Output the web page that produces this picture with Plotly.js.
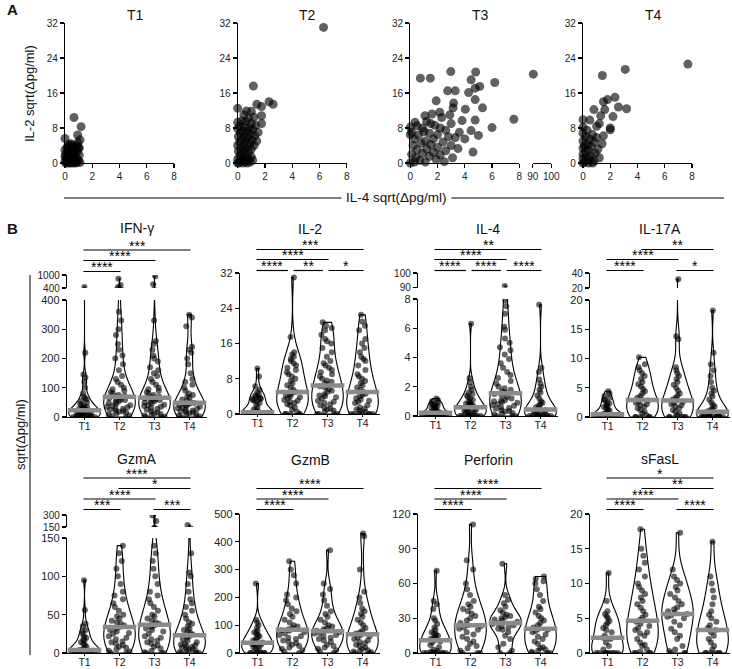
<!DOCTYPE html>
<html><head><meta charset="utf-8">
<script src="https://cdn.plot.ly/plotly-3.0.1.min.js"></script>
<style>html,body{margin:0;padding:0;background:#fff}#chart{width:732px;height:669px}</style>
</head><body><div id="chart"></div>
<script>
// ================= DATA =================
const timepoints = ['T1','T2','T3','T4'];

// Panel A: IL-4 sqrt(Δpg/ml) (x) vs IL-2 sqrt(Δpg/ml) (y)
const scatterT1_IL4 = [0.66,1.18,0.93,0.0,1.1,0.3,0.6,0.85,1.0,0.15,0.45,0.7,0.2,0.9,0.55,0.35,0.05,0.75,1.05,0.25,0.5,0.65,0.1,0.4,0.85,0.2,0.6,1.0,0.0,0.3,0.5,0.15,0.7,0.9,0.4,0.05,0.25,0.6,0.8,1.1,0.0,0.0,0.3,0.45,0.95,1.05];
const scatterT1_IL2 = [10.4,8.3,6.4,5.6,5.3,4.3,4.0,3.8,3.5,3.6,3.2,3.0,2.8,2.6,2.4,2.2,2.0,2.0,1.8,1.6,1.5,1.2,1.2,1.0,0.9,0.8,0.6,0.6,0.5,0.4,0.2,0.1,0.1,0.2,0.0,0.0,0.0,0.0,0.0,0.1,3.0,1.5,3.8,4.4,4.6,3.4];
const scatterT2_IL4 = [6.3,1.15,2.3,2.6,1.4,1.75,0.0,0.64,1.0,1.75,0.45,1.2,0.8,1.75,0.3,0.0,0.6,1.0,1.3,0.15,0.5,0.85,0.0,1.1,0.35,0.7,0.2,0.95,0.5,1.25,0.05,0.75,0.35,1.05,0.6,0.15,0.9,0.45,0.0,1.2,0.7,0.25,1.0,0.5,0.05,0.8,0.35,0.6,0.15,1.0,0.4,0.75,0.0,0.25,0.55,0.9,0.1,0.4,0.7,0.0,1.1,1.4,1.5];
const scatterT2_IL2 = [31.0,17.6,14.0,13.4,13.4,12.9,12.5,11.9,11.8,10.8,11.0,10.5,10.2,9.0,9.6,9.3,9.5,9.0,8.6,8.4,8.2,8.0,7.8,7.6,7.4,7.2,6.8,6.6,6.3,6.2,6.0,5.8,5.5,5.2,5.0,4.8,4.5,4.2,4.0,4.0,3.6,3.4,3.2,3.0,2.7,2.5,2.2,1.8,1.6,1.4,1.2,1.0,0.8,0.5,0.3,0.2,0.0,0.0,0.0,0.0,0.6,5.0,7.0];
const scatterT3_IL4 = [0.74,1.47,2.97,4.8,4.46,6.2,5.1,4.76,2.74,3.3,4.28,1.9,4.76,3.18,3.14,5.3,4.04,2.16,1.08,7.6,4.76,3.8,0.35,6.0,4.46,90.3,0.0,0.1,0.0,0.5,0.9,1.2,1.5,1.8,2.2,2.6,1.0,1.4,0.6,2.0,2.8,3.3,1.7,0.3,1.1,2.4,0.8,1.5,0.2,3.0,2.0,1.2,0.5,2.6,1.7,0.9,0.1,2.2,1.4,0.4,3.1,1.9,0.7,1.1,0.0,2.5,4.0,5.0,3.6,4.6,3.5,2.3,1.6,3.0,2.9,0.3];
const scatterT3_IL2 = [19.4,19.4,20.9,20.8,19.0,18.4,17.5,17.1,16.5,16.5,16.1,14.2,14.5,13.7,12.6,12.6,12.3,11.6,10.8,10.0,9.8,9.7,9.3,8.1,7.4,20.3,8.2,7.0,6.5,8.5,8.0,9.5,9.0,8.6,8.0,7.5,7.2,6.8,6.4,6.5,6.0,5.8,5.5,5.5,5.0,4.8,4.5,4.2,4.0,4.0,3.6,3.2,3.0,2.8,2.4,2.2,2.0,1.8,1.5,1.2,1.2,0.8,0.6,0.2,0.0,0.3,5.5,6.3,7.0,2.5,3.3,10.4,11.2,9.0,11.0,0.2];
const scatterT4_IL4 = [7.7,3.1,1.42,2.35,1.8,1.5,3.2,2.6,0.8,1.6,1.3,2.2,0.0,0.5,2.0,2.0,1.2,1.0,0.0,0.3,0.0,0.7,0.2,1.0,0.5,0.0,0.8,1.4,0.3,0.6,0.0,1.1,0.4,0.2,0.9,0.0,0.6,0.3,1.2,0.0,0.5,0.8,0.1,0.0,0.4,0.7,1.5,0.1];
const scatterT4_IL2 = [22.6,21.4,20.0,15.0,14.5,14.0,12.4,12.8,12.2,12.2,10.8,10.6,9.9,9.8,8.0,7.6,9.0,8.4,8.2,7.5,6.8,6.5,6.0,5.8,5.4,5.0,4.8,4.4,4.2,3.8,3.4,3.2,3.0,2.5,2.2,2.0,1.7,1.3,1.2,1.0,0.7,0.4,0.2,0.0,0.0,0.0,6.2,3.9];

// Panel B: sqrt(Δpg/ml) per time point [T1, T2, T3, T4]
const IFNG = [
  [0,0,0,0,0,1,2,3,4,5,6,7,8,10,12,14,15,17,18,20,22,24,25,28,30,32,35,38,40,45,50,55,60,65,70,80,100,120,135,145,220,445],
  [0,3,5,8,12,15,18,20,22,25,28,30,33,35,38,40,45,48,50,55,58,60,62,65,68,70,72,75,80,85,90,95,100,110,120,130,140,160,180,200,210,230,250,280,300,330,360,440,540,830],
  [0,0,2,5,8,10,12,15,20,25,28,30,35,38,40,42,45,50,52,55,58,60,62,64,66,68,70,75,80,85,90,95,100,110,120,130,140,150,160,170,190,200,210,230,250,260,330,570,945],
  [0,0,2,5,8,10,12,15,18,20,22,25,28,30,32,35,38,40,42,45,48,50,55,60,65,70,75,80,90,100,110,120,130,150,180,200,220,230,240,310,340,350]
];
const IL2 = [
  [0,0,0,0,0,0,0,0,0,0,0,0,0,0,0,0,0,0,0.1,0.2,0.3,0.5,0.8,1,1.5,2,2.5,2.8,3,3.2,3.4,3.5,3.6,3.8,4,4.2,4.5,5,5.5,6.3,8.5,10.3],
  [0,0,0,0,0,0.5,1,1.5,2,2.2,2.5,2.8,3,3.2,3.5,3.8,4,4.2,4.5,4.8,5,5.5,6,6.5,7,7.5,8,8.5,9,9.5,10,10.5,11,11.5,12,12.5,13,13.5,14,17.5,31],
  [0,0,0,0,0.5,0.8,1,1.2,1.5,2,2.2,2.5,2.8,3,3.5,3.8,4,4.2,4.5,5,5.3,5.6,6,6.3,6.6,7,7.3,7.6,8,8.5,9,9.5,10,10.5,11,11.5,12,13,14,15,16,16.5,17,18,19,19.5,20,20.8],
  [0,0,0,0,0,0,0.2,0.5,0.8,1,1.2,1.5,2,2.5,2.8,3,3.3,3.6,4,4.3,4.6,5,5.5,6,6.5,7,7.5,8,8.5,9,10,11,12,12.5,13,14,15,16,17,19,20,21,22.5]
];
const IL4 = [
  [0,0,0,0,0,0,0,0,0,0,0,0.05,0.1,0.1,0.15,0.2,0.2,0.25,0.3,0.3,0.35,0.4,0.5,0.55,0.6,0.65,0.7,0.75,0.8,0.85,0.9,1.0,1.1,1.2],
  [0,0,0,0,0,0,0,0.05,0.1,0.15,0.2,0.25,0.3,0.35,0.4,0.45,0.5,0.55,0.6,0.65,0.7,0.75,0.8,0.85,0.9,1.0,1.1,1.2,1.3,1.4,1.5,1.6,1.8,2.0,2.3,2.6,6.3],
  [0,0,0,0.1,0.15,0.2,0.3,0.35,0.4,0.5,0.55,0.6,0.7,0.75,0.8,0.9,0.95,1.0,1.05,1.1,1.2,1.3,1.4,1.5,1.6,1.7,1.8,1.9,2.0,2.2,2.4,2.6,2.8,3.0,3.3,3.6,3.9,4.2,4.5,4.7,5.0,5.3,5.9,6.1,7.0,7.5,7.9,91],
  [0,0,0,0,0,0,0,0,0.05,0.1,0.15,0.2,0.25,0.3,0.35,0.4,0.5,0.6,0.7,0.8,0.9,1.0,1.2,1.4,1.6,1.8,2.0,2.2,2.5,3.0,3.3,7.6]
];
const IL17A = [
  [0,0,0,0,0,0,0,0,0,0,0,0,0,0.1,0.2,0.3,0.4,0.5,0.7,0.9,1.1,1.3,1.5,1.7,1.9,2.1,2.3,2.5,2.8,3.0,3.3,3.6,4.0,4.4],
  [0,0,0,0,0,0.3,0.6,0.9,1.2,1.5,1.8,2.0,2.2,2.4,2.6,2.8,3.0,3.3,3.6,4.0,4.4,4.8,5.2,5.6,6.0,6.5,7.0,7.5,8.0,8.5,9.0,10.2],
  [0,0,0,0,0,0,0.3,0.6,0.9,1.2,1.5,1.8,2.0,2.2,2.4,2.6,2.8,3.0,3.3,3.6,4.0,4.5,5.0,5.5,6.0,6.5,7.0,7.5,8.0,8.5,13.3,13.8,31.8],
  [0,0,0,0,0,0,0,0,0,0,0,0.1,0.2,0.3,0.4,0.6,0.8,1.0,1.2,1.5,1.8,2.1,2.5,3.0,3.5,4.0,4.5,5.0,6.0,7.0,8.0,9.0,11.0,18.2]
];
const GZMA = [
  [0,0,0,0,0,0,0,0,0,0,0,0,0.5,1,1.5,2,3,4,5,6,8,10,12,14,16,18,20,22,25,28,30,35,38,56,95],
  [0,0,2,3,5,7,8,10,12,14,15,18,20,22,25,26,28,30,32,34,36,38,40,42,45,48,50,55,60,65,70,75,80,90,100,110,120,130,140],
  [0,0,0,1,3,6,8,10,12,14,16,18,20,22,25,28,30,32,34,36,38,40,42,45,48,50,55,60,65,70,75,80,90,100,110,120,130,140,225,295],
  [0,0,0,1,2,3,4,5,6,7,8,9,10,11,12,14,16,18,20,22,24,26,28,30,32,35,38,40,45,50,55,60,65,70,80,90,100,105,130,175]
];
const GZMB = [
  [0,0,0,0,0,0,5,10,15,20,25,28,30,32,35,38,40,45,50,55,60,65,70,75,80,90,100,110,120,250],
  [0,5,10,15,20,25,30,35,40,45,50,55,60,65,70,75,80,82,85,90,95,100,110,120,130,140,150,160,175,190,200,210,250,280,300,330],
  [0,5,10,15,20,25,30,40,45,50,55,60,65,70,72,75,78,80,85,90,95,100,110,120,130,140,150,170,190,210,230,250,370],
  [0,0,3,5,8,10,15,20,25,30,35,40,45,50,55,60,65,70,75,80,90,100,110,120,130,140,150,160,180,200,220,300,420,430]
];
const PERFORIN = [
  [0,0,0,0,0,0,0,0,0,1,2,3,5,7,9,10,11,12,13,14,15,16,17,18,20,22,25,28,30,38,42,45,71],
  [0,0,0,2,4,6,8,10,12,14,16,18,20,21,22,23,24,26,28,30,32,34,36,38,40,42,45,50,55,60,72,80,111],
  [0,0,2,5,8,12,15,18,20,21,22,23,24,25,26,27,28,29,30,31,32,33,35,37,40,43,46,50,77],
  [0,0,0,1,2,3,4,5,8,10,12,14,16,18,19,20,21,22,24,26,28,30,32,35,38,40,45,50,55,60,62,64,66]
];
const SFASL = [
  [0,0,0,0,0,0,0,0,0,0.5,1,1.5,2,2.2,2.5,3,3.3,3.6,4,4.3,4.6,5,5.3,5.6,6,7.5,11.5],
  [0,0,0,0,0.2,0.5,1,1.2,1.5,2,2.5,2.8,3,3.3,3.6,3.9,4.2,4.5,4.8,5.1,5.5,6,6.5,7,7.5,8,8.5,9,9.5,10,11,12,13,14,15,17.8],
  [0,0,0,0.3,0.5,1,2,2.5,3,3.5,4,4.5,5,5.2,5.4,5.6,5.8,6,6.3,6.6,7,7.5,8,8.5,9,9.5,10,10.5,11,12,17.3],
  [0,0,0,0,0,0,0.5,1,1.5,2,2.5,3,3.3,3.6,4,4.5,5,5.5,6,7,8,9,10,11,16]
];

// Significance comparisons: [from index, to index, label, bracket level]
const IFNG_SIG = [[0,3,'***',0],[0,2,'****',1],[0,1,'****',2]];
const IL2_SIG = [[0,3,'***',0],[0,2,'****',1],[0,1,'****',2],[1,2,'**',2],[2,3,'*',2]];
const IL4_SIG = [[0,3,'**',0],[0,2,'****',1],[0,1,'****',2],[1,2,'****',2],[2,3,'****',2]];
const IL17A_SIG = [[1,3,'**',0],[0,2,'****',1],[0,1,'****',2],[2,3,'*',2]];
const GZMA_SIG = [[0,3,'****',0],[1,3,'*',1],[0,2,'****',2],[0,1,'***',3],[2,3,'***',3]];
const GZMB_SIG = [[0,3,'****',1],[0,2,'****',2],[0,1,'****',3]];
const PERFORIN_SIG = [[0,3,'****',1],[0,2,'****',2],[0,1,'****',3]];
const SFASL_SIG = [[0,3,'*',0],[1,3,'**',1],[0,2,'****',2],[0,1,'****',3],[2,3,'****',3]];

// ================= BUILD =================
const FONT = 'Liberation Sans, Arial, Helvetica, sans-serif';
const W = 732, H = 669;
const fx = p => p / W;
const fy = p => 1 - p / H;
const axKey = (l, n) => l + 'axis' + (n === 1 ? '' : n);
const axRef = (l, n) => l + (n === 1 ? '' : n);
const median = a => { const s = [...a].sort((p, q) => p - q); const n = s.length; return n % 2 ? s[(n - 1) / 2] : (s[n / 2 - 1] + s[n / 2]) / 2; };

const layout = {
  width: W, height: H, margin: {l: 0, r: 0, t: 0, b: 0},
  paper_bgcolor: '#fff', plot_bgcolor: 'rgba(0,0,0,0)', showlegend: false,
  font: {family: FONT, color: '#111'}, violinmode: 'overlay',
  shapes: [], annotations: []
};
const traces = [];
const baseAxis = {
  showline: true, linecolor: '#000', linewidth: 1.2, ticks: 'outside', ticklen: 4, tickwidth: 1.2,
  tickcolor: '#000', showgrid: false, zeroline: false, fixedrange: true,
  tickfont: {family: FONT, size: 10, color: '#222'}
};
function label(text, xp, yp, size, opts) {
  layout.annotations.push(Object.assign({text: text, x: fx(xp), y: fy(yp), xref: 'paper', yref: 'paper',
    showarrow: false, xanchor: 'center', yanchor: 'middle', font: {family: FONT, size: size, color: '#111'}}, opts || {}));
}

// ---- Panel A ----
const scatterX = [scatterT1_IL4, scatterT2_IL4, scatterT3_IL4, scatterT4_IL4];
const scatterY = [scatterT1_IL2, scatterT2_IL2, scatterT3_IL2, scatterT4_IL2];
const aLeft = [65, 237.7, 410.3, 583];
for (let i = 0; i < 4; i++) {
  const xm = 2 * i + 1, xb = 2 * i + 2, yn = i + 1, L = aLeft[i];
  layout[axKey('x', xm)] = Object.assign({}, baseAxis, {domain: [fx(L), fx(L + 109)], range: [0, 8], tickvals: [0, 2, 4, 6, 8], anchor: axRef('y', yn)});
  layout[axKey('x', xb)] = Object.assign({}, baseAxis, {domain: [fx(L + 122.5), fx(L + 141)], range: [90, 100], tickvals: [90, 100], anchor: axRef('y', yn)});
  layout[axKey('y', yn)] = Object.assign({}, baseAxis, {domain: [fy(163), fy(23)], range: [0, 32], tickvals: [0, 8, 16, 24, 32], anchor: axRef('x', xm)});
  const xs = scatterX[i], ys = scatterY[i];
  const idx = xs.map((v, k) => k);
  const mainK = idx.filter(k => xs[k] <= 8), brkK = idx.filter(k => xs[k] >= 90);
  const mk = {size: 9, color: 'rgba(0,0,0,0.62)', line: {width: 0}};
  traces.push({type: 'scatter', mode: 'markers', x: mainK.map(k => xs[k]), y: mainK.map(k => ys[k]), xaxis: axRef('x', xm), yaxis: axRef('y', yn), marker: mk, cliponaxis: false, hoverinfo: 'skip'});
  if (brkK.length) traces.push({type: 'scatter', mode: 'markers', x: brkK.map(k => xs[k]), y: brkK.map(k => ys[k]), xaxis: axRef('x', xb), yaxis: axRef('y', yn), marker: mk, cliponaxis: false, hoverinfo: 'skip'});
  label(timepoints[i], L + 70, 15, 14);
}
label('<b>A</b>', 12, 9, 15);
label('IL-2 sqrt(\u0394pg/ml)', 30, 93, 13, {textangle: -90});
layout.shapes.push({type: 'line', xref: 'paper', yref: 'paper', x0: fx(64), x1: fx(724), y0: fy(198), y1: fy(198), line: {color: '#000', width: 1.2}});
label('IL-4 sqrt(\u0394pg/ml)', 396, 197, 13.5, {bgcolor: '#fff', borderpad: 4});

// ---- Panel B ----
const panels = [
  {name: 'IFN-\u03b3', data: IFNG, sig: IFNG_SIG, xpx: [67, 207], low: [0, 400], lowTicks: [0, 100, 200, 300, 400], lowPx: [417, 300], up: [400, 1000], upPx: [288, 275], titlePy: 228, levels: [250, 260.5, 271.5]},
  {name: 'IL-2', data: IL2, sig: IL2_SIG, xpx: [240, 380], low: [0, 32], lowTicks: [0, 8, 16, 24, 32], lowPx: [414, 273], titlePy: 229, levels: [249.5, 259.5, 270.5]},
  {name: 'IL-4', data: IL4, sig: IL4_SIG, xpx: [418, 558], low: [0, 8], lowTicks: [0, 2, 4, 6, 8], lowPx: [416, 299], up: [90, 100], upPx: [287.5, 273], titlePy: 229, levels: [249.5, 259.5, 270.5]},
  {name: 'IL-17A', data: IL17A, sig: IL17A_SIG, xpx: [590, 730], low: [0, 20], lowTicks: [0, 5, 10, 15, 20], lowPx: [417, 300], up: [20, 40], upPx: [288, 273], titlePy: 229, levels: [249.5, 259.5, 270.5]},
  {name: 'GzmA', data: GZMA, sig: GZMA_SIG, xpx: [67, 207], low: [0, 150], lowTicks: [0, 50, 100, 150], lowPx: [653, 538], up: [150, 300], upPx: [527, 515], titlePy: 458.5, levels: [478, 488.5, 499, 509.5]},
  {name: 'GzmB', data: GZMB, sig: GZMB_SIG, xpx: [240, 380], low: [0, 500], lowTicks: [0, 100, 200, 300, 400, 500], lowPx: [653, 514], titlePy: 460, levels: [478, 488.5, 499, 509.5]},
  {name: 'Perforin', data: PERFORIN, sig: PERFORIN_SIG, xpx: [418, 558], low: [0, 120], lowTicks: [0, 30, 60, 90, 120], lowPx: [653, 514], titlePy: 460, levels: [478, 488.5, 499, 509.5]},
  {name: 'sFasL', data: SFASL, sig: SFASL_SIG, xpx: [590, 730], low: [0, 20], lowTicks: [0, 5, 10, 15, 20], lowPx: [653, 514], titlePy: 458.5, levels: [478, 488.5, 499, 509.5]}
];
const bTick = {family: FONT, size: 11, color: '#222'};
const bTickX = {family: FONT, size: 10.5, color: '#222'};
const bTickUp = {family: FONT, size: 10, color: '#222'};
let upN = 13;
panels.forEach((p, k) => {
  const xn = 9 + k, yn = 5 + k;
  const xr = axRef('x', xn), yr = axRef('y', yn);
  layout[axKey('x', xn)] = Object.assign({}, baseAxis, {domain: [fx(p.xpx[0]), fx(p.xpx[1])], type: 'category', categoryorder: 'array', categoryarray: timepoints, range: [-0.5, 3.5], ticklen: 2, ticklabelstandoff: -3, anchor: yr, tickfont: bTickX});
  layout[axKey('y', yn)] = Object.assign({}, baseAxis, {domain: [fy(p.lowPx[0]), fy(p.lowPx[1])], range: p.low, tickvals: p.lowTicks, anchor: xr, tickfont: bTick});
  const axesForTraces = [[yr, null]];
  if (p.up) {
    const un = upN++;
    layout[axKey('y', un)] = Object.assign({}, baseAxis, {domain: [fy(p.upPx[0]), fy(p.upPx[1])], range: p.up, tickvals: p.up, anchor: xr, tickfont: bTickUp});
    axesForTraces.push([axRef('y', un), p.up[0]]);
  }
  axesForTraces.forEach(([ya, minShown]) => {
    p.data.forEach((vals, g) => {
      if (minShown !== null && Math.max(...vals) <= minShown) return;
      traces.push({type: 'violin', x0: timepoints[g], y: vals, xaxis: xr, yaxis: ya, points: 'all', pointpos: 0, jitter: 0.85,
        spanmode: 'hard', width: 0.9, scalemode: 'width', line: {color: '#000', width: 1.1}, fillcolor: 'rgba(255,255,255,0)',
        marker: {size: 6, color: 'rgba(0,0,0,0.6)', line: {width: 0}}, box: {visible: false}, meanline: {visible: false}, hoverinfo: 'skip'});
    });
  });
  traces.push({type: 'scatter', mode: 'markers', x: timepoints, y: p.data.map(median), xaxis: xr, yaxis: yr, cliponaxis: false, hoverinfo: 'skip',
    marker: {symbol: 'line-ew', size: 24, color: '#8a8a8a', line: {width: 4.5, color: '#8a8a8a'}}});
  label(p.name, (p.xpx[0] + p.xpx[1]) / 2, p.titlePy, 14);
  p.sig.forEach(([i, j, txt, lev]) => {
    const same = p.sig.filter(s => s[3] === lev);
    let x0 = i - 0.03, x1 = j + 0.03;
    if (same.some(s => s[0] === j)) x1 = j - 0.13;
    if (same.some(s => s[1] === i)) x0 = i + 0.03;
    const yy = fy(p.levels[lev]);
    layout.shapes.push({type: 'line', xref: xr, yref: 'paper', x0: x0, x1: x1, y0: yy, y1: yy, line: {color: '#000', width: 1.2}});
    layout.annotations.push({text: txt, xref: xr, yref: 'paper', x: (x0 + x1) / 2, y: yy, yanchor: 'middle', xanchor: 'center', yshift: 5, height: 9, valign: 'middle', showarrow: false, font: {family: FONT, size: 14, color: '#000'}});
  });
});
label('<b>B</b>', 12, 229, 15);
layout.shapes.push({type: 'line', xref: 'paper', yref: 'paper', x0: fx(30), x1: fx(30), y0: fy(275), y1: fy(655), line: {color: '#808080', width: 2}});
label('sqrt(\u0394pg/ml)', 20, 435, 13, {textangle: -90});

Plotly.newPlot('chart', traces, layout, {staticPlot: true, displayModeBar: false});
</script>
</body></html>
